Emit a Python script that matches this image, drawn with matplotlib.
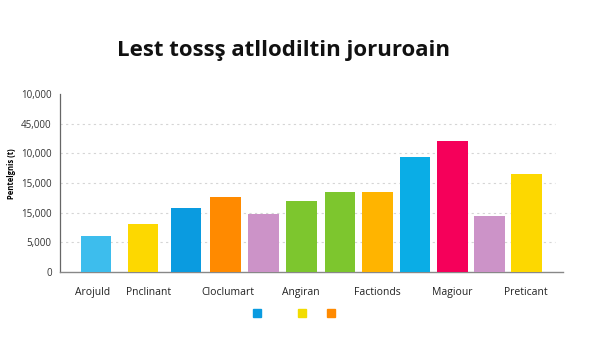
import matplotlib.pyplot as plt

# dati
valori = [6000, 8100, 10800, 12700, 9800, 11900, 13500, 13500, 19300, 22100, 9400, 16600]
colori = ["#3DBDED", "#FDD800", "#0A9BE0", "#FF8A00", "#CC93C8", "#7DC62E",
          "#7DC62E", "#FFB400", "#0AADE6", "#F5005A", "#CC93C8", "#FDD800"]
posizioni_barre = [0, 1.2, 2.3, 3.3, 4.27, 5.24, 6.22, 7.18, 8.14, 9.1, 10.04, 10.98]
etichette_x = ["Arojuld", "Pnclinant", "Cloclumart", "Angiran", "Factionds", "Magiour", "Preticant"]
posizioni_etichette = [-0.1, 1.35, 3.37, 5.23, 7.17, 9.08, 10.97]
tick_y = [0, 5000, 10000, 15000, 20000, 25000, 30000]
etichette_y = ["0", "5,000", "15,000", "15,000", "10,000", "45,000", "10,000"]
titolo = "Lest tossş atllodiltin joruroain"
etichetta_asse_y = "Pentelgnis (t)"
colori_legenda = ["#0A9BE0", "#F2DC00", "#FF8A00"]

plt.rcParams["font.family"] = ["Open Sans", "DejaVu Sans"]

fig = plt.figure(figsize=(6, 3.38), dpi=100)
ax = fig.add_axes([0.1, 0.195, 0.838, 0.527])

ax.bar(posizioni_barre, valori, width=0.78, color=colori, zorder=3)

ax.set_xlim(-0.92, 11.91)
ax.set_ylim(0, 30000)
ax.set_yticks(tick_y)
ax.set_yticklabels(etichette_y, fontsize=7, color="#333333")
ax.set_xticks(posizioni_etichette)
ax.set_xticklabels(etichette_x, fontsize=7.5, color="#222222")
ax.tick_params(axis="x", length=0, pad=11)
ax.tick_params(axis="y", length=0, pad=6)

for valore in tick_y[1:-1]:
    ax.plot([-0.92, 11.7], [valore, valore], ls=(0, (2, 3)), color="#d5d5d5", lw=0.8, zorder=1)

for lato in ["top", "right"]:
    ax.spines[lato].set_visible(False)
ax.spines["left"].set_color("#666666")
ax.spines["bottom"].set_color("#888888")
ax.spines["left"].set_linewidth(0.9)
ax.spines["bottom"].set_linewidth(1.0)

ax.set_ylabel(etichetta_asse_y, fontsize=5.5, fontweight="bold")
ax.yaxis.set_label_coords(-0.088, 0.55)

fig.text(0.473, 0.85, titolo, ha="center", va="center", fontsize=16, fontweight="bold", color="#111111")

for x, colore in zip([0.428, 0.503, 0.552], colori_legenda):
    fig.patches.append(plt.Rectangle((x - 0.007, 0.062), 0.014, 0.024, transform=fig.transFigure,
                                     color=colore, figure=fig))

fig.savefig("out.png", dpi=100)
